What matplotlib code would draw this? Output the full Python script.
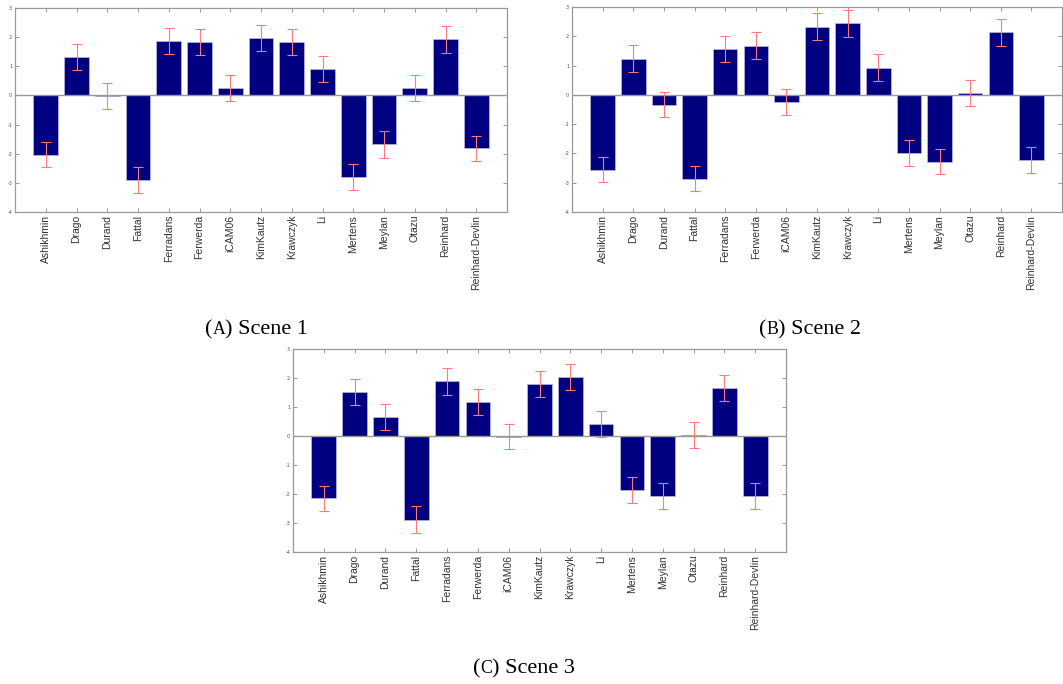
import numpy as np
import matplotlib.pyplot as plt
from matplotlib.text import Annotation

methods = ["Ashikhmin", "Drago", "Durand", "Fattal", "Ferradans", "Ferwerda",
           "iCAM06", "KimKautz", "Krawczyk", "Li", "Mertens", "Meylan",
           "Otazu", "Reinhard", "Reinhard-Devlin"]

scene1 = [-2.03, 1.32, -0.02, -2.89, 1.87, 1.83, 0.26, 1.98, 1.84, 0.92,
          -2.80, -1.68, 0.26, 1.92, -1.82]
scene2 = [-2.55, 1.24, -0.33, -2.86, 1.56, 1.68, -0.24, 2.32, 2.44, 0.93,
          -1.98, -2.28, 0.07, 2.13, -2.22]
scene3 = [-2.14, 1.51, 0.65, -2.88, 1.88, 1.17, -0.02, 1.79, 2.03, 0.41,
          -1.87, -2.07, 0.04, 1.65, -2.07]

err1 = [0.44, 0.45, 0.44, 0.45, 0.45, 0.45, 0.44, 0.45, 0.45, 0.45, 0.44, 0.45, 0.45, 0.45, 0.44]
err2 = [0.43, 0.45, 0.44, 0.44, 0.45, 0.45, 0.44, 0.46, 0.45, 0.45, 0.44, 0.43, 0.45, 0.45, 0.45]
err3 = [0.43, 0.45, 0.45, 0.45, 0.45, 0.45, 0.44, 0.45, 0.45, 0.45, 0.45, 0.45, 0.45, 0.45, 0.45]

captions = ["Scene 1", "Scene 2", "Scene 3"]
letters = ["A", "B", "C"]

W, H = 1063, 684
fig = plt.figure(figsize=(W / 100, H / 100), dpi=100)

# axes boxes in pixels: left, top, right, bottom
boxes = [(15, 8, 507, 212), (572, 7, 1062, 212), (293, 349, 786, 552)]
# caption: left start x, baseline y (pixels)
cap_pos = [(205, 334), (759, 334), (473, 673)]

x = np.arange(1, len(methods) + 1)
serif = "Liberation Serif"
fs = 16

for vals, errs, box, cp, cap, let in zip([scene1, scene2, scene3], [err1, err2, err3],
                                          boxes, cap_pos, captions, letters):
    l, t, r, b = box
    ax = fig.add_axes([l / W, 1 - b / H, (r - l) / W, (b - t) / H])
    ax.bar(x, vals, width=0.8, color="#000080", edgecolor="#c8c8e0", linewidth=0.4, zorder=2)
    ax.axhline(0, color="#999999", linewidth=1.0, zorder=3)
    ax.errorbar(x, vals, yerr=errs, fmt="none", ecolor="#ff7a7a", elinewidth=0.8,
                capsize=3.5, capthick=0.8, zorder=4)
    ax.set_xlim(0, 16)
    ax.set_ylim(-4, 3)
    ax.set_xticks(x)
    ax.set_xticklabels(methods, rotation=90, fontsize=7.5, color="#333333",
                       family="Liberation Sans")
    ax.set_yticks(range(-4, 4))
    ax.set_yticklabels([str(v) for v in range(-4, 4)], fontsize=3.5, color="#555555")
    ax.tick_params(direction="in", length=3, width=0.6, color="#888888",
                   top=True, right=True, pad=2)
    for s in ax.spines.values():
        s.set_color("#999999")
        s.set_linewidth(0.9)

    # caption with small-caps letter
    yb = 1 - cp[1] / H
    t1 = fig.text(cp[0] / W, yb, "(", ha="left", va="baseline", fontsize=fs, family=serif)
    t2 = Annotation(let, xy=(1, yb), xycoords=(t1, "figure fraction"), ha="left",
                    va="baseline", fontsize=fs * 0.8, family=serif)
    fig.add_artist(t2)
    t3 = Annotation(") " + cap, xy=(1, yb), xycoords=(t2, "figure fraction"), ha="left",
                    va="baseline", fontsize=fs, family=serif)
    fig.add_artist(t3)

fig.savefig("out.png", dpi=100)
